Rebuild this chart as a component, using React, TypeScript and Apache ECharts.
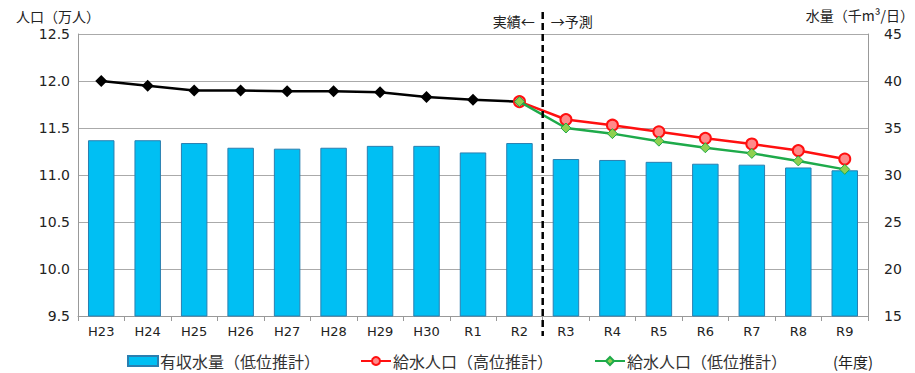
import React, { useEffect, useRef } from "react";
import * as echarts from "echarts";

const categories = ["H23", "H24", "H25", "H26", "H27", "H28", "H29", "H30", "R1", "R2", "R3", "R4", "R5", "R6", "R7", "R8", "R9"];
const waterVolume = [33.7, 33.7, 33.4, 32.9, 32.8, 32.9, 33.1, 33.1, 32.4, 33.4, 31.7, 31.6, 31.4, 31.2, 31.1, 30.8, 30.5];
const popActual = [12.0, 11.95, 11.9, 11.9, 11.89, 11.89, 11.88, 11.83, 11.8, 11.78, null, null, null, null, null, null, null];
const popHigh = [null, null, null, null, null, null, null, null, null, 11.78, 11.59, 11.53, 11.46, 11.39, 11.33, 11.26, 11.17];
const popLow = [null, null, null, null, null, null, null, null, null, 11.78, 11.5, 11.44, 11.36, 11.29, 11.23, 11.15, 11.06];

const FONT = "'DejaVu Sans', 'Noto Sans CJK JP', sans-serif";
const JP = "'Noto Sans CJK JP', sans-serif";

const legendBase = {
  top: 353,
  padding: 0,
  itemWidth: 30,
  itemHeight: 10,
  itemGap: 0,
  textStyle: { fontFamily: JP, fontSize: 16, lineHeight: 16, color: "#333", padding: [0, 0, 0, -3] },
};

export default function App() {
  const ref = useRef<HTMLDivElement>(null);
  useEffect(() => {
    const chart = echarts.init(ref.current!, null, { renderer: "svg" });
    chart.setOption({
      animation: false,
      backgroundColor: "#ffffff",
      grid: { left: 78, right: 47, top: 34, bottom: 57 },
      legend: [
        { ...legendBase, left: 127, data: [{ name: "有収水量（低位推計）", icon: "rect" }] },
        { ...legendBase, left: 360, data: [{ name: "給水人口（高位推計）" }] },
        { ...legendBase, left: 594, data: [{ name: "給水人口（低位推計）" }] },
      ],
      xAxis: {
        type: "category",
        data: categories,
        axisLine: { lineStyle: { color: "#999" } },
        axisTick: { show: true, alignWithLabel: false, length: 5, lineStyle: { color: "#999" } },
        axisLabel: { fontFamily: FONT, fontSize: 13, color: "#222", margin: 9 },
      },
      yAxis: [
        {
          type: "value",
          min: 9.5,
          max: 12.5,
          interval: 0.5,
          axisLine: { show: true, lineStyle: { color: "#999" } },
          axisTick: { show: false },
          splitLine: { lineStyle: { color: "#aaa" } },
          axisLabel: { fontFamily: FONT, fontSize: 14, color: "#222", formatter: (v: number) => v.toFixed(1), margin: 8 },
        },
        {
          type: "value",
          min: 15,
          max: 45,
          interval: 5,
          position: "right",
          axisLine: { show: true, lineStyle: { color: "#999" } },
          axisTick: { show: false },
          splitLine: { show: false },
          axisLabel: { fontFamily: FONT, fontSize: 14, color: "#222", margin: 16 },
        },
      ],
      series: [
        {
          name: "有収水量（低位推計）",
          type: "bar",
          yAxisIndex: 1,
          data: waterVolume,
          barWidth: "57%",
          itemStyle: { color: "#00BFF3", borderColor: "#2a7fb0", borderWidth: 1 },
          z: 1,
        },
        {
          name: "実績",
          type: "line",
          data: popActual,
          symbol: "diamond",
          symbolSize: 12,
          lineStyle: { color: "#000", width: 2.5 },
          itemStyle: { color: "#000" },
          z: 3,
        },
        {
          name: "給水人口（高位推計）",
          type: "line",
          data: popHigh,
          symbol: "circle",
          symbolSize: 11,
          lineStyle: { color: "#FF1010", width: 2.5 },
          itemStyle: { color: "#FF8A8A", borderColor: "#FF1010", borderWidth: 2 },
          z: 4,
        },
        {
          name: "給水人口（低位推計）",
          type: "line",
          data: popLow,
          symbol: "diamond",
          symbolSize: 10,
          lineStyle: { color: "#1EAA4A", width: 2.5 },
          itemStyle: { color: "#8FD050", borderColor: "#1EAA4A", borderWidth: 1 },
          z: 5,
        },
      ],
    });
    const x1 = chart.convertToPixel({ xAxisIndex: 0 }, "R2") as number;
    const x2 = chart.convertToPixel({ xAxisIndex: 0 }, "R3") as number;
    const xm = (x1 + x2) / 2;
    chart.setOption({
      graphic: [
        {
          type: "line",
          shape: { x1: xm, y1: 12, x2: xm, y2: 336 },
          style: { stroke: "#000", lineWidth: 2.5, lineDash: [7, 4] },
          z: 10,
        },
        { type: "text", x: xm - 8, y: 21, style: { text: "実績←", fontFamily: JP, fontSize: 14, fill: "#222", align: "right", verticalAlign: "middle" } },
        { type: "text", x: xm + 8, y: 21, style: { text: "→予測", fontFamily: JP, fontSize: 14, fill: "#222", align: "left", verticalAlign: "middle" } },
        { type: "text", x: 16, y: 16, style: { text: "人口（万人）", fontFamily: JP, fontSize: 14, fill: "#222", verticalAlign: "middle" } },
        { type: "text", x: 914, y: 15, style: { text: "水量（千m³/日）", fontFamily: JP, fontSize: 14, fill: "#222", align: "right", verticalAlign: "middle" } },
        { type: "text", x: 853, y: 361, style: { text: "(年度)", fontFamily: JP, fontSize: 15, fill: "#222", align: "center", verticalAlign: "middle" } },
      ],
    });
    return () => chart.dispose();
  }, []);
  return <div ref={ref} style={{ position: "fixed", left: 0, top: 0, width: 915, height: 373 }} />;
}
